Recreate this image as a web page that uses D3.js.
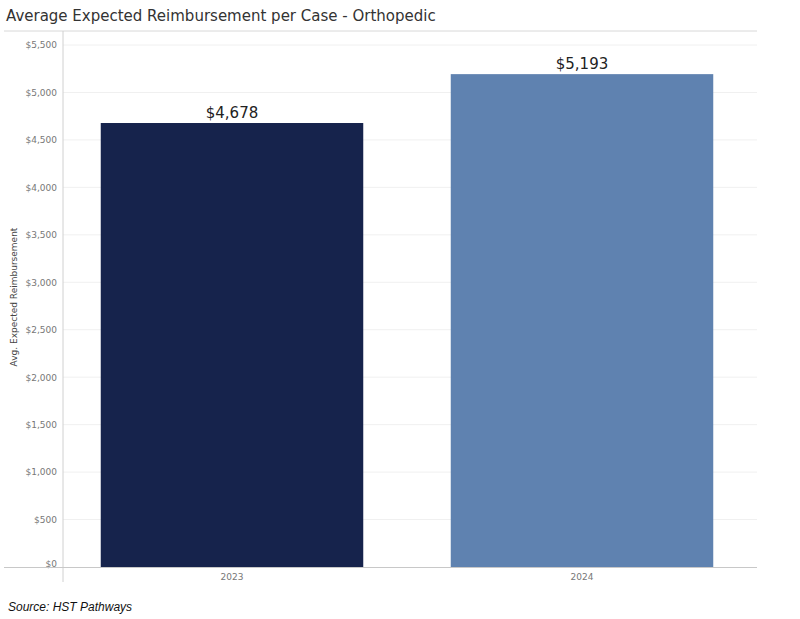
<!DOCTYPE html>
<html><head><meta charset="utf-8">
<script src="https://cdn.jsdelivr.net/npm/d3@7"></script>
<style>body{margin:0;background:#fff}</style>
</head><body><svg id="chart" width="800" height="619"></svg>
<script>
// chart data
let years = ['2023', '2024']
let values = [4678, 5193]
let barColors = ['#16234c', '#5f82b0']
let yTicks = [0, 500, 1000, 1500, 2000, 2500, 3000, 3500, 4000, 4500, 5000, 5500]

let svg = d3.select('#chart')
let font = 'Verdana, "DejaVu Sans", sans-serif'

let x = d3.scaleBand().domain(years).range([63, 763])
let y = d3.scaleLinear().domain([0, 5500]).range([567, 45])

svg.append('text').attr('x', 6).attr('y', 21)
    .style('font-family', font).style('font-size', '15px').attr('fill', '#333')
    .text('Average Expected Reimbursement per Case - Orthopedic')

// grid
svg.selectAll('.grid').data(yTicks.slice(1)).enter().append('line')
    .attr('x1', 63).attr('x2', 757).attr('y1', d => y(d)).attr('y2', d => y(d))
    .attr('stroke', '#f0f0f0')

svg.append('line').attr('x1', 4).attr('x2', 757).attr('y1', 31).attr('y2', 31).attr('stroke', '#d8d8d8')

let yAxis = svg.append('g').attr('transform', 'translate(63,0)')
    .call(d3.axisLeft(y).tickValues(yTicks).tickSize(0).tickPadding(6).tickFormat(d => '$' + d3.format(',')(d)))
yAxis.select('.domain').remove()
yAxis.selectAll('text').attr('fill', '#777').style('font-family', font).style('font-size', '9px')
    .attr('dy', d => d === 0 ? '-0.1em' : '0.32em')

svg.append('line').attr('x1', 63).attr('x2', 63).attr('y1', 31).attr('y2', 582).attr('stroke', '#d0d0d0')

svg.append('text').attr('transform', 'translate(17,297) rotate(-90)').attr('text-anchor', 'middle')
    .style('font-family', font).style('font-size', '9px').attr('fill', '#444')
    .text('Avg. Expected Reimbursement')

let bw = x.bandwidth() * 0.75
svg.selectAll('.bar').data(years).enter().append('rect')
    .attr('x', d => x(d) + (x.bandwidth() - bw) / 2 - 6)
    .attr('width', bw)
    .attr('y', (d, i) => y(values[i]))
    .attr('height', (d, i) => y(0) - y(values[i]))
    .attr('fill', (d, i) => barColors[i])

svg.selectAll('.lbl').data(years).enter().append('text')
    .attr('x', d => x(d) + x.bandwidth() / 2 - 6)
    .attr('y', (d, i) => y(values[i]) - 5)
    .attr('text-anchor', 'middle')
    .style('font-family', font).style('font-size', '15px').attr('fill', '#222')
    .text((d, i) => '$' + d3.format(',')(values[i]))

svg.append('line').attr('x1', 4).attr('x2', 757).attr('y1', 567.5).attr('y2', 567.5).attr('stroke', '#c8c8c8')

svg.selectAll('.xl').data(years).enter().append('text')
    .attr('x', d => x(d) + x.bandwidth() / 2 - 6).attr('y', 580)
    .attr('text-anchor', 'middle')
    .style('font-family', font).style('font-size', '9px').attr('fill', '#777')
    .text(d => d)

svg.append('text').attr('x', 8).attr('y', 611)
    .style('font-family', '"Liberation Sans", Arial, sans-serif').style('font-size', '12px')
    .style('font-style', 'italic').attr('fill', '#111')
    .text('Source: HST Pathways')
</script></body></html>
